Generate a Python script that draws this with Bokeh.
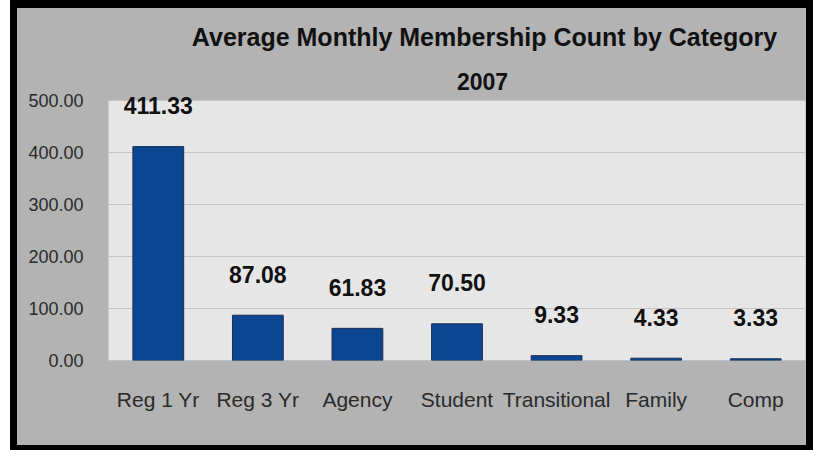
from bokeh.plotting import figure
from bokeh.models import (ColumnDataSource, LabelSet, Label, FixedTicker,
                          NumeralTickFormatter, Range1d, BoxAnnotation)
from bokeh.core.properties import value
from bokeh.embed import file_html
from bokeh.resources import INLINE

categories = ["Reg 1 Yr", "Reg 3 Yr", "Agency", "Student", "Transitional", "Family", "Comp"]
values = [411.33, 87.08, 61.83, 70.50, 9.33, 4.33, 3.33]
value_labels = ["411.33", "87.08", "61.83", "70.50", "9.33", "4.33", "3.33"]
y_ticks = [0, 100, 200, 300, 400, 500]
axis_max = 500
title_text = "Average Monthly Membership Count by Category"
subtitle_text = "2007"

FONT = "Liberation Sans"
GRAY = "#b3b3b3"
PLOT_BG = "#e6e6e6"

src = ColumnDataSource(dict(cat=categories, val=values, lab=value_labels))

p = figure(x_range=categories, y_range=Range1d(0, 676.92), width=803, height=450,
           output_backend="svg", toolbar_location=None,
           min_border_left=91, min_border_right=15, min_border_top=0, min_border_bottom=98)
p.styles = {"margin-left": "10px", "border-style": "solid", "border-color": "black",
            "border-width": "8px 7px 5px 7px", "background-color": GRAY}

p.background_fill_color = GRAY
p.border_fill_color = GRAY
p.outline_line_color = None

# light plot area from 0 to the axis maximum, drawn beneath the grid
plot_area = BoxAnnotation(bottom=0, top=axis_max, left=-5, right=12,
                          fill_color=PLOT_BG, fill_alpha=1,
                          line_color=None, level="underlay")
p.center = [plot_area] + list(p.center)

p.vbar(x="cat", top="val", width=0.51, source=src,
       fill_color="#0d4690", line_color="#1c2e50", line_width=1)

p.xgrid.grid_line_color = None
p.ygrid.grid_line_color = "#c4c4c4"
p.ygrid.grid_line_width = 1

p.yaxis.ticker = FixedTicker(ticks=y_ticks)
p.yaxis.formatter = NumeralTickFormatter(format="0.00")
for ax in (p.xaxis, p.yaxis):
    ax.axis_line_color = None
    ax.major_tick_line_color = None
    ax.minor_tick_line_color = None
    ax.major_tick_out = 0
    ax.major_tick_in = 0
    ax.minor_tick_out = 0
    ax.major_label_text_font = FONT
    ax.major_label_text_color = "#2a2a2a"

p.yaxis.major_label_text_font_size = "18px"
p.yaxis.major_label_standoff = 25
p.xaxis.major_label_text_font_size = "21px"
p.xaxis.major_label_standoff = 27

labels = LabelSet(x="cat", y="val", text="lab", source=src, y_offset=41,
                  text_align="center", text_baseline="middle",
                  text_font=value(FONT), text_font_size=value("23px"),
                  text_font_style=value("bold"), text_color=value("#111111"))
p.add_layout(labels)

p.add_layout(Label(x=3.776, y=621.2, text=title_text, text_align="center",
                   text_baseline="middle", text_font=FONT, text_font_size="25px",
                   text_font_style="bold", text_color="#111111"))
p.add_layout(Label(x=3.756, y=536.5, text=subtitle_text, text_align="center",
                   text_baseline="middle", text_font=FONT, text_font_size="23px",
                   text_font_style="bold", text_color="#111111"))

open("out.html", "w").write(file_html(p, INLINE))
